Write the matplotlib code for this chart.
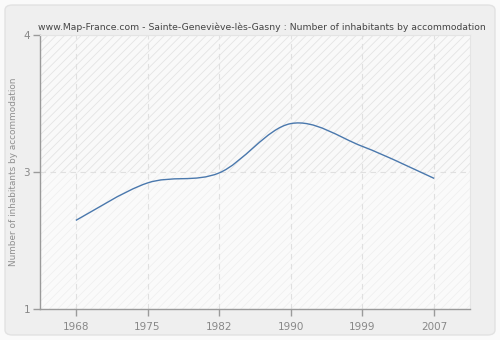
import matplotlib.pyplot as plt
from matplotlib.patches import Rectangle, FancyBboxPatch
from matplotlib.path import Path
from matplotlib.patches import PathPatch

years = ["1968", "1975", "1982", "1990", "1999", "2007"]
inhabitants = [1.97, 2.38, 2.49, 3.03, 2.78, 2.43]
ytick_pos = [1, 2.5, 4]
ytick_labels = ["1", "3", "4"]

title = "www.Map-France.com - Sainte-Geneviève-lès-Gasny : Number of inhabitants by accommodation"
ylabel = "Number of inhabitants by accommodation"

plt.rcParams['hatch.linewidth'] = 0.6

fig = plt.figure(figsize=(5, 3.4), dpi=100)
fig.patch.set_facecolor('#fafafa')

# rounded panel behind everything
panel = FancyBboxPatch((5 / 500, 5 / 340), 490 / 500, 330 / 340,
                       boxstyle="round,pad=0,rounding_size=0.015",
                       transform=fig.transFigure, facecolor='#efefef',
                       edgecolor='#e2e2e2', lw=1, zorder=-5)
fig.add_artist(panel)

ax = fig.add_axes([40 / 500, 31 / 340, 430 / 500, 274 / 340])
ax.set_zorder(2)
ax.set_facecolor('none')

# hatched plot background
ax.add_patch(Rectangle((0, 0), 1, 1, transform=ax.transAxes, facecolor='#f9f9f9',
                       edgecolor='#e4e4e4', hatch='////', lw=0, zorder=0))
ax.add_patch(Rectangle((0, 0), 1, 0.5, transform=ax.transAxes, facecolor='#fcfcfc',
                       alpha=0.5, lw=0, zorder=0.5))

x = list(range(len(years)))
ax.set_xlim(-0.5, len(years) - 0.5)
ax.set_ylim(1, 4)

# smooth curve through the points (Catmull-Rom as cubic Bezier segments)
pts = list(zip(x, inhabitants))
verts = [pts[0]]
codes = [Path.MOVETO]
for i in range(len(pts) - 1):
    p0 = pts[max(i - 1, 0)]
    p1 = pts[i]
    p2 = pts[i + 1]
    p3 = pts[min(i + 2, len(pts) - 1)]
    c1 = (p1[0] + (p2[0] - p0[0]) / 6, p1[1] + (p2[1] - p0[1]) / 6)
    c2 = (p2[0] - (p3[0] - p1[0]) / 6, p2[1] - (p3[1] - p1[1]) / 6)
    verts += [c1, c2, p2]
    codes += [Path.CURVE4] * 3
ax.add_patch(PathPatch(Path(verts, codes), facecolor='none', edgecolor='#4a78ad',
                       lw=1.0, zorder=3))

ax.set_xticks(x)
ax.set_xticklabels(years)
ax.set_yticks(ytick_pos)
ax.set_yticklabels(ytick_labels)

ax.grid(True, color='#e0e0e0', linestyle=(0, (5, 4)), lw=0.8, zorder=1)
ax.set_axisbelow(True)

for side in ['top', 'right']:
    ax.spines[side].set_color('#e4e4e4')
    ax.spines[side].set_linewidth(0.8)
for side in ['left', 'bottom']:
    ax.spines[side].set_color('#9a9a9a')
    ax.spines[side].set_linewidth(1.0)

ax.tick_params(axis='both', colors='#9a9a9a', labelcolor='#888888', length=5,
               width=1, labelsize=7.5)
ax.tick_params(axis='x', pad=4)
ax.tick_params(axis='y', pad=2)

ax.set_ylabel(ylabel, color='#8f8f8f', fontsize=6.4, labelpad=4)
fig.text(0.524, 0.905, title, ha='center', va='bottom', fontsize=6.7, color='#444444')

fig.savefig("out.png", dpi=100, facecolor=fig.get_facecolor())
